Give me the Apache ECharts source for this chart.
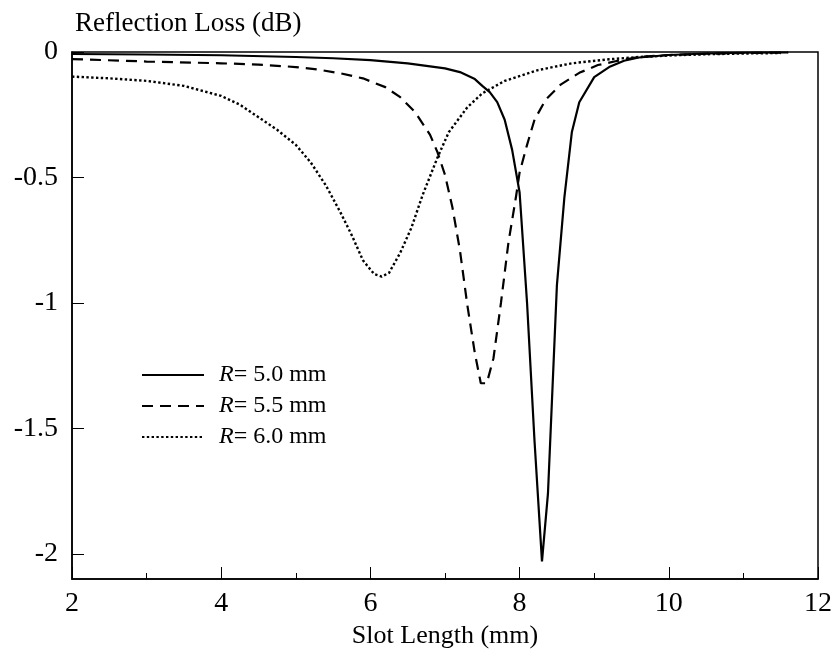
<!DOCTYPE html>
<html>
<head>
<meta charset="utf-8">
<script src="https://cdn.jsdelivr.net/npm/echarts@6/dist/echarts.min.js"></script>
<style>html,body{margin:0;padding:0;background:#fff;}#c{width:835px;height:657px;}</style>
</head>
<body>
<div id="c"></div>
<script>
const seriesNames = ['R= 5.0 mm', 'R= 5.5 mm', 'R= 6.0 mm'];
const xTicks = [2, 4, 6, 8, 10, 12];
const yTicks = [-2, -1.5, -1, -0.5, 0];
const r50 = [[2,-0.008],[3,-0.01],[4,-0.013],[5,-0.02],[5.5,-0.025],[6,-0.032],[6.5,-0.045],[7,-0.065],[7.2,-0.08],[7.4,-0.108],[7.5,-0.135],[7.6,-0.16],[7.7,-0.2],[7.8,-0.27],[7.9,-0.39],[8.0,-0.56],[8.1,-1.0],[8.2,-1.55],[8.3,-2.03],[8.38,-1.76],[8.5,-0.93],[8.6,-0.58],[8.7,-0.32],[8.8,-0.2],[9.0,-0.1],[9.2,-0.06],[9.4,-0.035],[9.6,-0.022],[10,-0.012],[10.5,-0.006],[11,-0.003],[11.6,-0.002]];
const r55 = [[2,-0.028],[3,-0.038],[4,-0.045],[4.5,-0.05],[5,-0.06],[5.3,-0.07],[5.6,-0.085],[5.9,-0.105],[6.2,-0.14],[6.4,-0.18],[6.6,-0.24],[6.8,-0.33],[6.9,-0.40],[7.0,-0.49],[7.1,-0.62],[7.2,-0.79],[7.3,-1.01],[7.4,-1.2],[7.48,-1.32],[7.56,-1.32],[7.65,-1.22],[7.75,-1.0],[7.85,-0.76],[7.95,-0.58],[8.0,-0.48],[8.1,-0.37],[8.2,-0.27],[8.35,-0.19],[8.55,-0.13],[8.8,-0.083],[9.05,-0.052],[9.3,-0.036],[9.6,-0.02],[10,-0.012],[10.5,-0.007],[11,-0.004],[11.6,-0.002]];
const r60 = [[2,-0.098],[2.5,-0.105],[3,-0.115],[3.5,-0.135],[4,-0.175],[4.25,-0.21],[4.5,-0.26],[4.75,-0.31],[5,-0.37],[5.2,-0.44],[5.4,-0.53],[5.6,-0.64],[5.75,-0.73],[5.9,-0.83],[6.05,-0.885],[6.15,-0.895],[6.25,-0.88],[6.4,-0.80],[6.55,-0.70],[6.7,-0.57],[6.9,-0.42],[7.05,-0.32],[7.3,-0.22],[7.5,-0.165],[7.8,-0.115],[8.25,-0.072],[8.7,-0.045],[9.2,-0.029],[9.6,-0.02],[10,-0.014],[10.5,-0.009],[11,-0.006],[11.5,-0.004]];

const FONT = '"Liberation Serif", "Times New Roman", serif';
const chart = echarts.init(document.getElementById('c'), null, {renderer: 'canvas'});
const mk = (name, data, width, dash) => ({
  name, type: 'line', data, symbol: 'none', showSymbol: false, smooth: false,
  lineStyle: {color: '#000', width, type: dash}, itemStyle: {color: '#000'},
  emphasis: {disabled: true}, animation: false, z: 3
});
chart.setOption({
  animation: false,
  backgroundColor: '#fff',
  title: {text: 'Reflection Loss (dB)', left: 70, top: 5, textStyle: {fontFamily: FONT, fontWeight: 'normal', fontSize: 27, color: '#000'}},
  grid: {left: 72, right: 17, top: 52, bottom: 78, show: true, borderColor: '#000', borderWidth: 1.5, backgroundColor: 'transparent'},
  legend: {
    left: 136, top: 358, orient: 'vertical', itemWidth: 62, itemHeight: 14, itemGap: 7,
    data: seriesNames.map(n => ({name: n})),
    itemStyle: {opacity: 0},
    textStyle: {fontFamily: FONT, fontSize: 24, color: '#000', padding: [0, 0, 0, 10],
      rich: {i: {fontStyle: 'italic', fontFamily: FONT, fontSize: 24, color: '#000'}, t: {fontFamily: FONT, fontSize: 24, color: '#000'}}},
    formatter: n => '{i|R}{t|' + n.slice(1) + '}',
    selectedMode: false
  },
  xAxis: {
    type: 'value', min: 2, max: 12, interval: 2,
    name: 'Slot Length (mm)', nameLocation: 'middle', nameGap: 41,
    nameTextStyle: {fontFamily: FONT, fontSize: 26, color: '#000'},
    axisLine: {onZero: false, lineStyle: {color: '#000', width: 1.5}},
    axisTick: {inside: true, length: 12, lineStyle: {color: '#000'}},
    minorTick: {show: true, splitNumber: 2, length: 6, lineStyle: {color: '#000'}},
    splitLine: {show: false},
    axisLabel: {fontFamily: FONT, fontSize: 28, color: '#000', margin: 11, customValues: xTicks}
  },
  yAxis: {
    type: 'value', min: -2.1, max: 0,
    axisLine: {show: true, onZero: false, lineStyle: {color: '#000', width: 1.5}},
    axisTick: {inside: true, length: 12, lineStyle: {color: '#000'}, customValues: yTicks},
    splitLine: {show: false},
    axisLabel: {fontFamily: FONT, fontSize: 28, color: '#000', margin: 14, customValues: yTicks, formatter: v => String(v)}
  },
  series: [
    mk(seriesNames[0], r50, 2.2, 'solid'),
    mk(seriesNames[1], r55, 2.2, [11, 7]),
    mk(seriesNames[2], r60, 2.4, [2.4, 2.4])
  ]
});
</script>
</body>
</html>
